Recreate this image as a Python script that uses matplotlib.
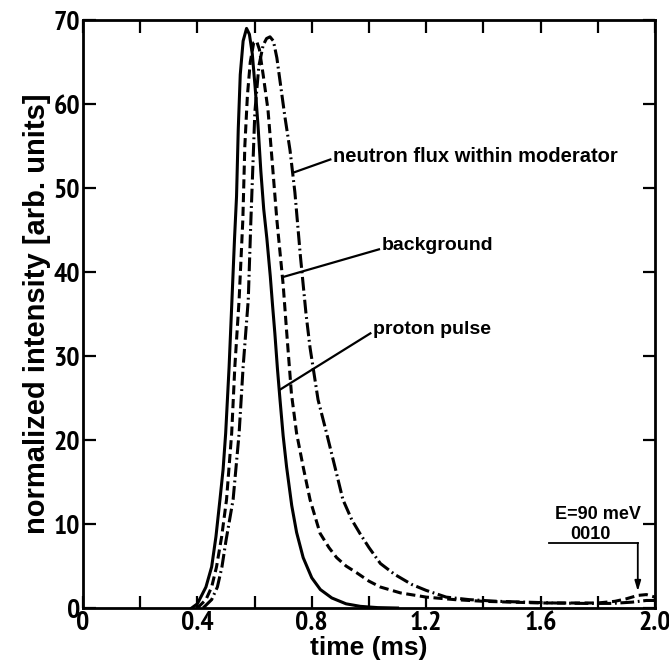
import matplotlib
matplotlib.use("Agg")
import matplotlib.pyplot as plt
from matplotlib import font_manager
from matplotlib.ticker import MultipleLocator, FixedLocator

# ---- data ----
proton_t = [0.38, 0.40, 0.43, 0.45, 0.465, 0.479, 0.49, 0.499, 0.511, 0.521, 0.530, 0.537,
            0.543, 0.550, 0.560, 0.572, 0.582, 0.592, 0.602, 0.612, 0.622, 0.632, 0.643,
            0.655, 0.663, 0.671, 0.680, 0.689, 0.700, 0.712, 0.730, 0.747, 0.770, 0.800,
            0.830, 0.870, 0.920, 0.970, 1.030, 1.100]
proton_v = [0.0, 0.5, 2.5, 4.9, 8.5, 12.9, 16.5, 20.8, 28.7, 36.7, 44.0, 49.0,
            57.0, 63.5, 67.5, 69.0, 68.3, 66.0, 62.0, 57.5, 52.0, 47.5, 44.0,
            39.5, 36.0, 32.7, 28.5, 24.8, 20.5, 16.8, 12.2, 9.0, 6.0, 3.6,
            2.2, 1.2, 0.5, 0.2, 0.05, 0.0]

background_t = [0.40, 0.43, 0.45, 0.467, 0.485, 0.502, 0.520, 0.531, 0.546, 0.559, 0.566,
                0.575, 0.585, 0.597, 0.607, 0.617, 0.630, 0.647, 0.662, 0.678, 0.690, 0.700,
                0.712, 0.729, 0.747, 0.770, 0.794, 0.829, 0.860, 0.887, 0.920, 0.957, 1.000,
                1.040, 1.110, 1.200, 1.300, 1.400, 1.500, 1.600, 1.700, 1.800, 1.860, 1.900,
                1.940, 1.970, 2.000]
background_v = [0.0, 1.0, 2.5, 4.9, 8.5, 12.9, 20.8, 28.7, 36.7, 46.2, 55.0,
                61.0, 65.0, 67.3, 67.5, 66.5, 63.5, 59.3, 53.0, 46.2, 42.0, 38.5,
                33.0, 25.5, 20.8, 16.8, 12.9, 8.9, 7.2, 6.0, 5.0, 4.2, 3.2,
                2.5, 1.8, 1.3, 1.0, 0.8, 0.7, 0.6, 0.6, 0.6, 0.8, 1.1,
                1.5, 1.6, 1.3]

neutron_t = [0.42, 0.45, 0.47, 0.486, 0.50, 0.525, 0.546, 0.560, 0.578, 0.587, 0.601, 0.615,
             0.630, 0.642, 0.654, 0.666, 0.678, 0.690, 0.706, 0.724, 0.741, 0.760, 0.780,
             0.794, 0.822, 0.852, 0.881, 0.909, 0.940, 0.968, 1.000, 1.040, 1.090, 1.150,
             1.200, 1.270, 1.350, 1.450, 1.550, 1.650, 1.750, 1.850, 1.920, 1.970, 2.000]
neutron_v = [0.0, 1.0, 2.5, 4.9, 8.0, 12.9, 20.8, 28.7, 36.7, 46.0, 59.0, 64.5,
             67.0, 67.8, 68.0, 67.5, 65.5, 62.5, 58.5, 54.5, 49.5, 42.0, 35.0,
             31.0, 24.8, 20.8, 16.8, 12.9, 10.5, 8.9, 7.2, 5.3, 4.0, 2.8,
             2.1, 1.3, 1.0, 0.8, 0.7, 0.6, 0.55, 0.55, 0.7, 0.9, 0.9]

x_ticks = [0.0, 0.4, 0.8, 1.2, 1.6, 2.0]
x_ticklabels = ["0", "0.4", "0.8", "1.2", "1.6", "2.0"]
y_ticks = [0, 10, 20, 30, 40, 50, 60, 70]

labels = ["neutron flux within moderator", "background", "proton pulse"]

# ---- fonts: condensed face for digits, regular bold sans for words ----
narrow_name = None
for f in font_manager.findSystemFonts():
    low = f.lower()
    if "narrow" in low and "bold" in low and "italic" not in low:
        try:
            font_manager.fontManager.addfont(f)
            narrow_name = font_manager.FontProperties(fname=f).get_name()
            break
        except Exception:
            pass
NARROW = ([narrow_name] if narrow_name else []) + ["Liberation Sans", "DejaVu Sans"]
WIDE = ["Liberation Sans", "DejaVu Sans"]

plt.rcParams["font.family"] = WIDE
plt.rcParams["font.weight"] = "bold"
plt.rcParams["axes.labelweight"] = "bold"

fig = plt.figure(figsize=(6.69, 6.72), dpi=100)
ax = fig.add_axes([0.124, 0.0952, 0.855, 0.875])

lw = 2.2
ax.plot(proton_t, proton_v, color="black", lw=lw, linestyle="-", solid_joinstyle="round")
ax.plot(background_t, background_v, color="black", lw=lw, linestyle=(0, (3.0, 1.5)))
ax.plot(neutron_t, neutron_v, color="black", lw=lw, linestyle=(0, (4.5, 1.2, 0.6, 1.2)))

ax.set_xlim(0, 2.0)
ax.set_ylim(0, 70)

ax.xaxis.set_major_locator(FixedLocator(x_ticks))
ax.set_xticklabels(x_ticklabels)
ax.xaxis.set_minor_locator(MultipleLocator(0.2))
ax.yaxis.set_major_locator(FixedLocator(y_ticks))

ax.tick_params(axis="both", which="both", direction="in", top=True, right=True,
               width=1.6, color="black")
ax.tick_params(axis="both", which="major", length=9, labelsize=20, pad=2)
ax.tick_params(axis="x", which="minor", length=9)
for lab in ax.get_xticklabels() + ax.get_yticklabels():
    lab.set_family(NARROW)
    lab.set_weight("bold")
for s in ax.spines.values():
    s.set_linewidth(2.0)

ax.set_xlabel("time (ms)", fontsize=19, labelpad=1)
ax.set_ylabel("normalized intensity [arb. units]", fontsize=21, labelpad=2)

# labels with pointer lines
ax.text(0.874, 53.7, labels[0], fontsize=14.5, ha="left", va="center")
ax.plot([0.865, 0.741], [53.4, 51.9], color="black", lw=1.6)
ax.text(1.045, 43.1, labels[1], fontsize=14, ha="left", va="center")
ax.plot([1.035, 0.699], [42.7, 39.4], color="black", lw=1.6)
ax.text(1.014, 33.1, labels[2], fontsize=14, ha="left", va="center")
ax.plot([1.005, 0.689], [32.7, 26.0], color="black", lw=1.6)

# E = 90 meV annotation
ax.text(1.80, 11.1, "E=90 meV", fontsize=13, ha="center", va="center")
ax.text(1.776, 8.7, "0010", fontsize=13, ha="center", va="center")
ax.plot([1.63, 1.94], [7.7, 7.7], color="black", lw=1.3)
ax.annotate("", xy=(1.94, 2.0), xytext=(1.94, 7.75),
            arrowprops=dict(arrowstyle="-|>,head_length=0.6,head_width=0.18",
                            color="black", lw=1.3, shrinkA=0, shrinkB=0))

fig.savefig("out.png", dpi=100)
